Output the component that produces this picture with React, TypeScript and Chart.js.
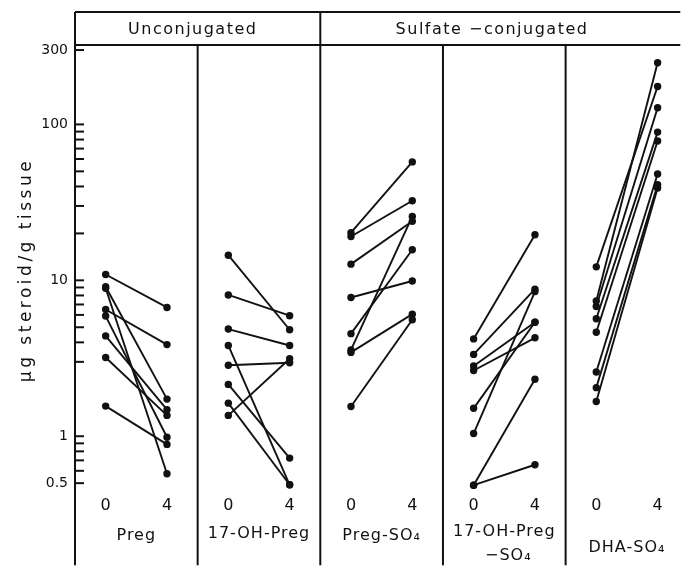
import React, { useEffect, useRef } from "react";
import { Chart, registerables } from "chart.js";

Chart.register(...registerables);

// ---------------- data ----------------
const groupTitles = ["Unconjugated", "Sulfate −conjugated"];
const groupPanelCounts = [2, 3];
const panelNames = ["Preg", "17-OH-Preg", "Preg-SO₄", "17-OH-Preg\n−SO₄", "DHA-SO₄"];
const hourLabels = [0, 4];
const yTickLabels = [0.5, 1, 10, 100, 300];
const yMinorTicks = [0.5, 0.6, 0.7, 0.8, 0.9, 1, 3, 4, 5, 6, 7, 8, 9, 10, 20, 30, 40, 50, 60, 70, 80, 90, 100, 300];
const yAxisTitle = "μg steroid/g tissue";

const pregAt0 = [10.9, 9.1, 8.9, 6.5, 5.9, 4.4, 3.2, 1.56];
const pregAt4 = [6.7, 1.73, 0.575, 3.87, 0.985, 1.48, 1.36, 0.886];
const ohPregAt0 = [14.5, 8.06, 4.87, 3.82, 2.85, 2.15, 1.63, 1.36];
const ohPregAt4 = [4.82, 5.93, 3.82, 0.488, 2.96, 0.724, 0.488, 3.14];
const pregSO4At0 = [20.2, 19.1, 12.7, 7.76, 4.55, 3.58, 3.45, 1.55];
const pregSO4At4 = [57.5, 32.4, 23.9, 9.9, 15.7, 25.7, 6.07, 5.59];
const ohPregSO4At0 = [4.21, 3.35, 2.82, 2.64, 1.51, 1.04, 0.485, 0.485];
const ohPregSO4At4 = [19.6, 8.77, 5.38, 4.28, 5.38, 8.47, 2.32, 0.656];
const dhaSO4At0 = [12.2, 7.38, 6.8, 5.67, 4.64, 2.58, 2.05, 1.67];
const dhaSO4At4 = [175, 249, 128, 89.3, 78.3, 48.1, 41.0, 39.1];

const panelSeries = [
  [pregAt0, pregAt4],
  [ohPregAt0, ohPregAt4],
  [pregSO4At0, pregSO4At4],
  [ohPregSO4At0, ohPregSO4At4],
  [dhaSO4At0, dhaSO4At4],
];

// ---------------- layout ----------------
const INK = "#111111";
const FONT = '"DejaVu Sans", sans-serif';
const PANEL_SPAN = 10;
const X_OFFSET = 2.5;
const X_PER_HOUR = 1.25;
const X_MAX = 49.35;
const Y_MIN = 0.1486;
const Y_MAX = 323.3;
const HEADER_TOP = 12;
const HEADER_BOTTOM = 45;
const AXIS_WIDTH = 75;

const xFor = (panel: number, hour: number) => panel * PANEL_SPAN + X_OFFSET + hour * X_PER_HOUR;

const decor = {
  id: "decor",
  beforeDatasetsDraw(chart: any) {
    const { ctx, chartArea: a, scales } = chart;
    const x = scales.x;
    const y = scales.y;
    const seg = (x1: number, y1: number, x2: number, y2: number) => {
      ctx.beginPath();
      ctx.moveTo(x1, y1);
      ctx.lineTo(x2, y2);
      ctx.stroke();
    };
    ctx.save();
    ctx.strokeStyle = INK;
    ctx.fillStyle = INK;
    ctx.lineWidth = 2;
    // axis + header box
    seg(a.left, HEADER_TOP, a.left, a.bottom);
    seg(a.left, HEADER_TOP, a.right, HEADER_TOP);
    seg(a.left, a.top, a.right, a.top);
    // dividers
    const groupEnds: number[] = [];
    let acc = 0;
    groupPanelCounts.forEach((c) => {
      acc += c;
      groupEnds.push(acc);
    });
    for (let i = 1; i < panelNames.length; i++) {
      const px = x.getPixelForValue(i * PANEL_SPAN);
      const fromTop = groupEnds.includes(i);
      seg(px, fromTop ? HEADER_TOP : a.top, px, a.bottom);
    }
    // inward tick marks
    ctx.lineWidth = 2;
    yMinorTicks.forEach((v) => {
      const py = y.getPixelForValue(v);
      seg(a.left, py, a.left + 9, py);
    });
    // header titles
    ctx.textAlign = "center";
    ctx.textBaseline = "middle";
    ctx.font = `16px ${FONT}`;
    (ctx as any).letterSpacing = "1.5px";
    const headerCenters = [9.6, 34];
    groupTitles.forEach((t, g) => {
      ctx.fillText(t, x.getPixelForValue(headerCenters[g]), (HEADER_TOP + HEADER_BOTTOM) / 2 + 1);
    });
    // hour labels
    (ctx as any).letterSpacing = "0px";
    ctx.font = `16px ${FONT}`;
    panelNames.forEach((_, p) => {
      hourLabels.forEach((h) => {
        ctx.fillText(String(h), x.getPixelForValue(xFor(p, h)), 506);
      });
    });
    // panel names
    (ctx as any).letterSpacing = "1px";
    const nameY = [536, 534, 536, 532, 548];
    panelNames.forEach((n, p) => {
      const cx = x.getPixelForValue(p * PANEL_SPAN + PANEL_SPAN / 2);
      n.split("\n").forEach((line, li) => {
        ctx.fillText(line, cx + (li > 0 ? 4 : 0), nameY[p] + li * 24);
      });
    });
    // y title
    ctx.save();
    ctx.translate(27, 270);
    ctx.rotate(-Math.PI / 2);
    ctx.font = `17px ${FONT}`;
    (ctx as any).letterSpacing = "3.5px";
    ctx.fillText(yAxisTitle, 0, 0);
    ctx.restore();
    ctx.restore();
  },
};

export default function App() {
  const ref = useRef<HTMLCanvasElement>(null);
  useEffect(() => {
    document.body.style.margin = "0";
    const datasets: any[] = [];
    panelSeries.forEach(([at0, at4], p) => {
      at0.forEach((v0, k) => {
        datasets.push({
          data: [
            { x: xFor(p, hourLabels[0]), y: v0 },
            { x: xFor(p, hourLabels[1]), y: at4[k] },
          ],
          showLine: true,
          borderColor: INK,
          backgroundColor: INK,
          borderWidth: 1.9,
          pointRadius: 3.7,
          pointBorderWidth: 0,
          pointHoverRadius: 3.7,
        });
      });
    });
    Chart.defaults.font.family = FONT;
    const chart = new Chart(ref.current!, {
      type: "scatter",
      data: { datasets },
      options: {
        animation: false,
        responsive: false,
        events: [],
        layout: { padding: { top: HEADER_BOTTOM, left: 0, right: 0, bottom: 0 } },
        plugins: { legend: { display: false }, tooltip: { enabled: false } },
        scales: {
          x: { type: "linear", min: 0, max: X_MAX, display: false },
          y: {
            type: "logarithmic",
            min: Y_MIN,
            max: Y_MAX,
            bounds: "data",
            afterFit: (s: any) => {
              s.width = AXIS_WIDTH;
              s.paddingTop = 0;
              s.paddingBottom = 0;
            },
            afterBuildTicks: (s: any) => {
              s.ticks = [Y_MIN, ...yTickLabels, Y_MAX].map((v) => ({ value: v }));
            },
            ticks: {
              autoSkip: false,
              padding: 0,
              color: INK,
              font: { size: 14 },
              callback: (v: any) => (yTickLabels.includes(v) ? String(v) : null),
            },
            grid: { display: false, drawTicks: true, tickLength: 7 },
            border: { display: false },
          },
        },
      } as any,
      plugins: [decor],
    });
    return () => chart.destroy();
  }, []);
  return <canvas ref={ref} width={684} height={569} style={{ display: "block" }} />;
}
